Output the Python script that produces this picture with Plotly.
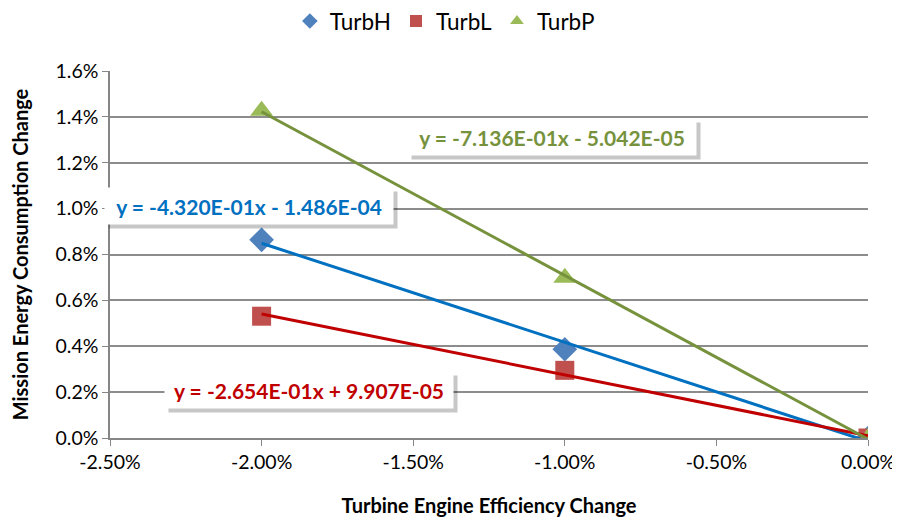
import numpy as np
import plotly.graph_objects as go

# Data (fractions)
x_vals = [-0.02, -0.01, 0.0]
turbH = [0.00864, 0.00387, 0.0]
turbL = [0.00531, 0.00295, 0.0]
turbP = [0.01427, 0.00699, 0.0]
series_names = ["TurbH", "TurbL", "TurbP"]
eq_labels = ["y = -4.320E-01x - 1.486E-04",
             "y = -2.654E-01x + 9.907E-05",
             "y = -7.136E-01x - 5.042E-05"]
x_ticks = [-0.025, -0.02, -0.015, -0.01, -0.005, 0.0]
x_ticklabels = ["-2.50%", "-2.00%", "-1.50%", "-1.00%", "-0.50%", "0.00%"]
y_ticks = [0.0, 0.002, 0.004, 0.006, 0.008, 0.010, 0.012, 0.014, 0.016]
y_ticklabels = ["0.0%", "0.2%", "0.4%", "0.6%", "0.8%", "1.0%", "1.2%", "1.4%", "1.6%"]

marker_colors = ["#4F81BD", "#C0504D", "#9BBB59"]
marker_symbols = ["diamond", "square", "triangle-up"]
marker_sizes = [19, 19, 20]
line_colors = ["#0070C0", "#C00000", "#76923C"]
label_pos = [(-0.02041, 0.01010), (-0.01843, 0.00210), (-0.01041, 0.01311)]

FONT = "Lato"
fig = go.Figure()
all_y = [turbH, turbL, turbP]
for name, ys, c, s, sz in zip(series_names, all_y, marker_colors, marker_symbols, marker_sizes):
    fig.add_trace(go.Scatter(x=x_vals, y=ys, mode="markers", name=name,
                             marker=dict(color=c, symbol=s, size=sz)))

# trendlines (linear fits of each series)
for ys, lc in zip(all_y, line_colors):
    m, b = np.polyfit(x_vals, ys, 1)
    xs = [min(x_vals), max(x_vals)]
    fig.add_trace(go.Scatter(x=xs, y=[m * xv + b for xv in xs], mode="lines",
                             line=dict(color=lc, width=3), showlegend=False,
                             hoverinfo="skip"))

for txt, (ax, ay), lc in zip(eq_labels, label_pos, line_colors):
    # soft shadow box
    fig.add_annotation(x=ax, y=ay, xref="x", yref="y", text=" ",
                       showarrow=False, width=276, height=24,
                       font=dict(family=FONT, size=21, color="rgba(0,0,0,0)"),
                       bgcolor="rgba(0,0,0,0.22)", borderpad=6, xshift=4, yshift=-4)
    fig.add_annotation(x=ax, y=ay, xref="x", yref="y", text="<b>" + txt + "</b>",
                       showarrow=False, width=276, height=24,
                       font=dict(family=FONT, size=21, color=lc),
                       bgcolor="white", borderpad=6)

# The page body has an 8px margin, so the figure is sized / offset to compensate.
fig.update_layout(
    width=892, height=513,
    margin=dict(l=102, r=32, t=63, b=83),
    paper_bgcolor="white", plot_bgcolor="white",
    font=dict(family=FONT, size=19.5, color="#000000"),
    legend=dict(orientation="h", x=0.316, xanchor="left", xref="container",
                y=0.974, yanchor="middle", yref="container",
                font=dict(size=22.5), itemsizing="constant",
                traceorder="normal", tracegroupgap=0),
    showlegend=True,
)
fig.update_xaxes(range=[-0.025, 0.0], tickvals=x_ticks, ticktext=x_ticklabels,
                 automargin=False, ticklabeloverflow="allow",
                 showgrid=False, showline=True, linecolor="#868686", linewidth=1.5,
                 ticks="outside", ticklen=6, tickcolor="#868686", zeroline=False,
                 title=dict(text="<b>Turbine Engine Efficiency Change</b>", font=dict(size=20), standoff=27))
fig.update_yaxes(range=[0.0, 0.016], tickvals=y_ticks, ticktext=y_ticklabels,
                 automargin=False,
                 showgrid=True, gridcolor="#8C8C8C", gridwidth=1.5,
                 showline=True, linecolor="#868686", linewidth=1.5,
                 ticks="outside", ticklen=6, tickcolor="#868686", zeroline=False,
                 title=dict(text="<b>Mission Energy Consumption Change</b>", font=dict(size=20), standoff=21))

fig.write_html("out.html")
